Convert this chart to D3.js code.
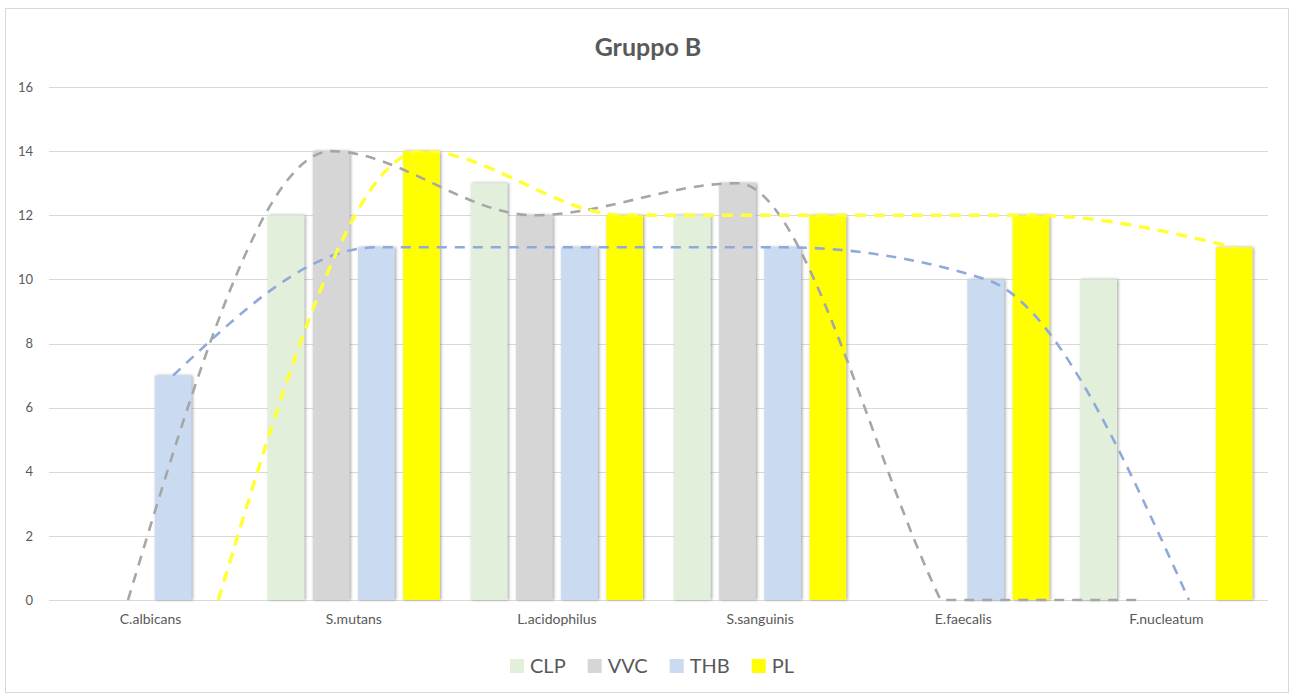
<!DOCTYPE html>
<html>
<head>
<meta charset="utf-8">
<script src="https://cdn.jsdelivr.net/npm/d3@7"></script>
<style>
  html, body { margin: 0; padding: 0; background: #fff; }
  svg { display: block; }
  text { font-family: Lato, "Open Sans", sans-serif; fill: #595959; }
</style>
</head>
<body>
<svg id="chart" width="1292" height="698"></svg>
<script>
// ---- data ----
const categories = ["C.albicans", "S.mutans", "L.acidophilus", "S.sanguinis", "E.faecalis", "F.nucleatum"];
const seriesNames = ["CLP", "VVC", "THB", "PL"];
const CLP = [0, 12, 13, 12, 0, 10];
const VVC = [0, 14, 12, 13, 0, 0];
const THB = [7, 11, 11, 11, 10, 0];
const PL  = [0, 14, 12, 12, 12, 11];
const yTicks = [0, 2, 4, 6, 8, 10, 12, 14, 16];
const title = "Gruppo B";
const lineSeries = ["VVC", "THB", "PL"];

// ---- styles ----
const barColors = { CLP: "#E2EFDA", VVC: "#D6D6D6", THB: "#C9DAF1", PL: "#FFFF00" };
const lineColors = { VVC: "#A6A6A6", THB: "#8EA9DB", PL: "#FFFF33" };
const lineWidths = { VVC: 2.6, THB: 2.6, PL: 3.4 };

const valuesBy = { CLP, VVC, THB, PL };

const svg = d3.select("#chart");
const plot = { left: 49, right: 1268, top: 87, bottom: 600 };

// shadow filter
const defs = svg.append("defs");
const f = defs.append("filter").attr("id", "shadow").attr("x", "-20%").attr("y", "-5%").attr("width", "140%").attr("height", "110%");
f.append("feDropShadow").attr("dx", 1.2).attr("dy", 0).attr("stdDeviation", 1.5)
  .attr("flood-color", "#707070").attr("flood-opacity", 0.65);

// border
svg.append("rect").attr("x", 5.5).attr("y", 8.5).attr("width", 1283).attr("height", 684)
  .attr("fill", "#fff").attr("stroke", "#D9D9D9").attr("stroke-width", 1);

// scales
const x = d3.scaleBand().domain(categories).range([plot.left, plot.right]).paddingInner(0).paddingOuter(0);
const groupPad = x.bandwidth() * 0.0763;
const xs = d3.scaleBand().domain(seriesNames).range([groupPad, x.bandwidth() - groupPad]).paddingInner(0.187).paddingOuter(0);
const y = d3.scaleLinear().domain([0, 16]).range([plot.bottom, plot.top]);

// gridlines
svg.append("g").selectAll("line").data(yTicks).join("line")
  .attr("x1", plot.left).attr("x2", plot.right)
  .attr("y1", d => Math.round(y(d)) + 0.5).attr("y2", d => Math.round(y(d)) + 0.5)
  .attr("stroke", "#D9D9D9").attr("stroke-width", 1);

// y axis labels
const yAxis = d3.axisLeft(y).tickValues(yTicks).tickSize(0).tickPadding(0).tickFormat(d3.format("d"));
const yg = svg.append("g").attr("transform", `translate(${plot.left - 16},0)`).call(yAxis);
yg.select(".domain").remove();
yg.selectAll("text").attr("font-size", 13).style("font-family", "Lato, sans-serif").attr("fill", "#595959");

// bars
const barData = [];
categories.forEach((c, i) => {
  seriesNames.forEach(s => barData.push({ cat: c, s, v: valuesBy[s][i] }));
});
svg.append("g").selectAll("rect").data(barData.filter(d => d.v > 0)).join("rect")
  .attr("x", d => x(d.cat) + xs(d.s))
  .attr("y", d => y(d.v))
  .attr("width", xs.bandwidth())
  .attr("height", d => y(0) - y(d.v))
  .attr("fill", d => barColors[d.s])
  .attr("filter", "url(#shadow)");

// x axis labels
const xAxis = d3.axisBottom(x).tickSize(0).tickPadding(0);
const xg = svg.append("g").attr("transform", `translate(0,${plot.bottom + 14})`).call(xAxis);
xg.select(".domain").remove();
xg.selectAll("text").attr("font-size", 14).style("font-family", "Lato, sans-serif").attr("fill", "#595959");

// smoothed line: monotone-style Hermite spline; a point resting on the
// axis floor next to a flat stretch keeps a corner (steep arrival, flat exit)
function smoothPath(pts, floorY) {
  const n = pts.length;
  const sec = [];
  for (let i = 0; i < n - 1; i++) sec.push((pts[i + 1][1] - pts[i][1]) / (pts[i + 1][0] - pts[i][0]));
  const mIn = new Array(n), mOut = new Array(n);
  for (let i = 1; i < n - 1; i++) {
    const s0 = sec[i - 1], s1 = sec[i];
    const p = (s0 + s1) / 2;
    let m = (Math.sign(s0) + Math.sign(s1)) * Math.min(Math.abs(s0), Math.abs(s1), 0.5 * Math.abs(p)) || 0;
    mIn[i] = m; mOut[i] = m;
    if (Math.abs(pts[i][1] - floorY) < 0.01) {
      if (s1 === 0 && s0 !== 0) { mIn[i] = s0; mOut[i] = 0; }
      if (s0 === 0 && s1 !== 0) { mIn[i] = 0; mOut[i] = s1; }
    }
  }
  mOut[0] = (3 * sec[0] - mIn[1]) / 2;
  mIn[n - 1] = (3 * sec[n - 2] - mOut[n - 2]) / 2;
  const p = d3.path();
  p.moveTo(pts[0][0], pts[0][1]);
  for (let i = 0; i < n - 1; i++) {
    const h = (pts[i + 1][0] - pts[i][0]) / 3;
    p.bezierCurveTo(pts[i][0] + h, pts[i][1] + mOut[i] * h,
                    pts[i + 1][0] - h, pts[i + 1][1] - mIn[i + 1] * h,
                    pts[i + 1][0], pts[i + 1][1]);
  }
  return p.toString();
}

lineSeries.forEach(s => {
  const pts = categories.map((c, i) => [x(c) + xs(s) + xs.bandwidth() / 2, y(valuesBy[s][i])]);
  svg.append("path").attr("d", smoothPath(pts, y(0)))
    .attr("fill", "none").attr("stroke", lineColors[s])
    .attr("stroke-width", lineWidths[s])
    .attr("stroke-dasharray", s === "PL" ? "11,8" : "10,8");
});

// title
svg.append("text").attr("x", 648).attr("y", 56).attr("text-anchor", "middle")
  .attr("font-size", 25).attr("font-weight", "bold").text(title);

// legend
const lg = svg.append("g");
const legendY = 666;
const items = lg.selectAll("g").data(seriesNames).join("g");
items.append("rect").attr("width", 14).attr("height", 14).attr("y", legendY - 7)
  .attr("fill", d => barColors[d]);
items.append("text").attr("x", 20).attr("y", legendY + 7).attr("font-size", 20).text(d => d);
const widths = [];
items.each(function() { widths.push(this.getBBox().width); });
const gap = 22;
const total = d3.sum(widths) + gap * (widths.length - 1);
let start = 652 - total / 2;
items.attr("transform", (d, i) => {
  const t = `translate(${start},0)`;
  start += widths[i] + gap;
  return t;
});
</script>
</body>
</html>
